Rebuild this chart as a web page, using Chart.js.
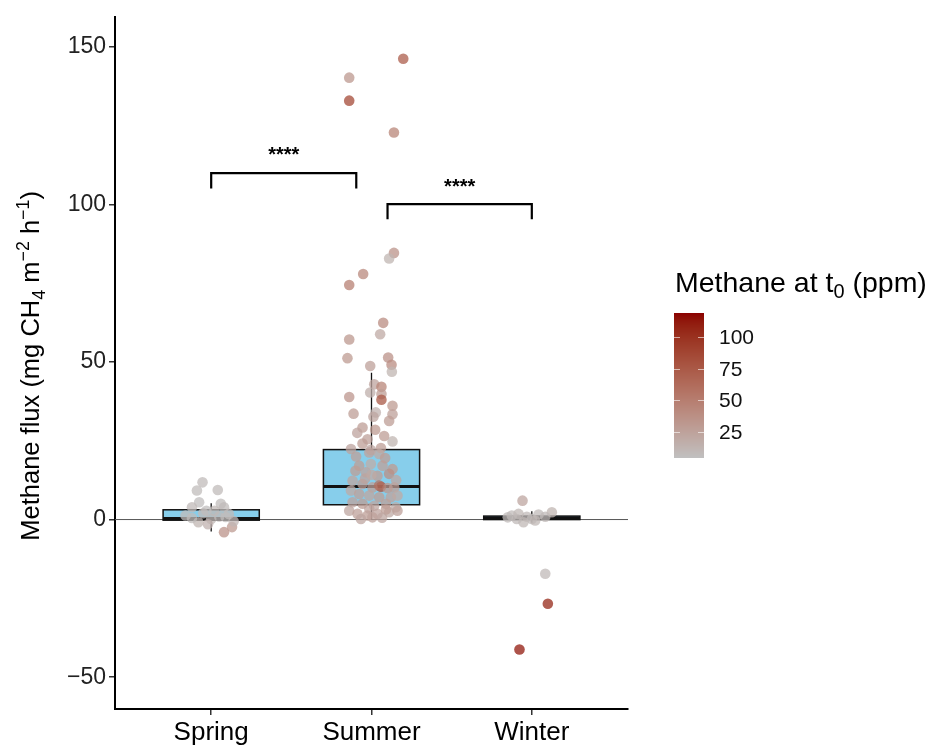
<!DOCTYPE html>
<html>
<head>
<meta charset="utf-8">
<script src="https://cdn.jsdelivr.net/npm/chart.js@4.4.1/dist/chart.umd.min.js"></script>
<style>
html,body{margin:0;padding:0;background:#fff;}
canvas{display:block;}
</style>
</head>
<body>
<canvas id="c" width="940" height="746"></canvas>
<script>
// ---------- DATA ----------
const seasons = ['Spring', 'Summer', 'Winter'];
const yTickValues = [-50, 0, 50, 100, 150];
const legendTickValues = [25, 50, 75, 100];
const methaneRange = [4.5, 119];

// Spring: flux, jitter offset (category units), methane at t0
const springFlux   = [11.8, 9.2, 9.4, 5.5, 3.9, 5.0, 3.9, 2.8, 2.8, -0.85, -4.0, -2.4, 1.8, 1.3, 0.5, 0.2, 1.0, -0.5, 2.0, 0.8, -1.5];
const springJitter = [-0.054, -0.089, 0.041, -0.075, -0.12, 0.06, 0.08, 0.02, -0.03, -0.08, 0.08, 0.13, 0.11, -0.16, -0.12, 0.0, 0.05, 0.14, -0.05, 0.09, -0.02];
const springCH4    = [8, 7, 8, 6, 9, 7, 8, 10, 6, 12, 35, 30, 9, 8, 7, 10, 9, 11, 8, 7, 14];

const summerFlux = [146.2, 140.2, 132.9, 122.8, 84.6, 82.8, 77.9, 74.4, 62.4, 58.8, 57.1, 51.2, 51.4, 49.1, 46.9, 48.7,
  42.9, 42.1, 40.3, 39.8, 38.0, 38.9, 36.1, 34.0, 33.6, 33.4, 32.6, 31.3, 29.2, 25.5, 24.8, 24.1, 22.4, 22.1, 22.7, 21.3,
  20.8, 17.1, 17.6, 17.1, 16.0, 15.0, 13.9, 14.5, 12.3, 11.3, 10.4, 10.2, 10.0, 10.2, 9.2, 8.1, 7.6, 7.1, 7.1, 7.6,
  5.5, 5.0, 4.4, 5.0, 3.9, 2.8, 1.8, 1.3, 1.8, 2.3, 2.8, 0.2, 0.7,
  20.0, 19.5, 13.0, 10.8, 12.5, 15.5, 14.2, 26.5, 27.5, 28.5, 3.2, 3.5, 0.6];
const summerJitter = [0.198, -0.139, -0.139, 0.14, 0.14, 0.11, -0.052, -0.139, 0.073, 0.054, -0.139, -0.15, 0.104, 0.125, 0.127, -0.008,
  0.017, 0.062, -0.008, 0.062, 0.062, -0.139, 0.131, 0.027, -0.112, 0.131, 0.012, 0.11, -0.056, -0.025, 0.131, -0.056, -0.128, -0.004, 0.059, -0.014,
  0.048, -0.077, -0.004, 0.069, 0.131, -0.035, 0.037, 0.11, -0.118, -0.056, 0.059, 0.006, 0.1, 0.142, -0.128, -0.077, -0.014, 0.048, 0.121, 0.162,
  -0.118, -0.056, 0.017, 0.09, 0.152, -0.139, -0.087, -0.025, 0.037, 0.11, 0.162, -0.066, 0.006,
  -0.096, 0.085, -0.04, 0.048, 0.154, -0.1, 0.0, 0.079, -0.089, 0.023, 0.09, -0.014, 0.066];
const summerCH4 = [72, 32, 85, 45, 35, 12, 42, 48, 40, 20, 32, 30, 36, 40, 12, 26,
  24, 45, 16, 28, 75, 33, 30, 14, 28, 26, 22, 28, 28, 26, 12, 28, 24, 22, 28, 24,
  20, 28, 18, 26, 30, 24, 28, 38, 22, 28, 80, 26, 32, 28, 20, 26, 22, 28, 24, 20,
  24, 28, 22, 26, 18, 22, 26, 28, 24, 20, 26, 22, 25,
  26, 28, 24, 60, 22, 28, 20, 28, 24, 30, 28, 24, 22];

const winterFlux   = [6.0, 1.3, 1.8, 0.9, 1.6, 2.3, 0.9, -0.85, 0.2, 0.2, 0.7, -0.3, -17.2, -26.7, -41.2];
const winterJitter = [-0.058, -0.125, -0.083, -0.031, 0.042, 0.125, 0.084, -0.052, 0.0, -0.094, -0.15, 0.021, 0.084, 0.1, -0.077];
const winterCH4    = [22, 8, 10, 9, 8, 12, 9, 10, 8, 9, 8, 10, 9, 105, 112];

// Box statistics per season
const boxQ1        = [-0.2, 4.7, 0.0];
const boxMedian    = [0.3, 10.5, 0.5];
const boxQ3        = [3.1, 22.2, 1.1];
const whiskerLow   = [-3.8, 0.0, -1.0];
const whiskerHigh  = [5.2, 46.6, 2.6];

// Significance brackets
const bracketFrom  = [1.0, 2.1];
const bracketTo    = [1.905, 3.0];
const bracketTop   = [109.9, 100.1];
const bracketTip   = [105.0, 95.3];
const bracketText  = ['****', '****'];
const bracketTextY = [113.6, 103.5];

// ---------- COLOUR SCALE (Lab interpolation, like ggplot) ----------
const LOW = [192, 192, 192], HIGH = [139, 0, 0];
function lin(c){c/=255;return c<=0.04045?c/12.92:Math.pow((c+0.055)/1.055,2.4);}
function gam(c){c=c<=0.0031308?12.92*c:1.055*Math.pow(c,1/2.4)-0.055;return Math.max(0,Math.min(255,Math.round(c*255)));}
const WX=0.95047,WY=1,WZ=1.08883;
function f(t){return t>0.008856?Math.cbrt(t):7.787*t+16/116;}
function finv(t){return t>0.206893?t*t*t:(t-16/116)/7.787;}
function toLab(rgb){const r=lin(rgb[0]),g=lin(rgb[1]),b=lin(rgb[2]);
  const X=(0.4124*r+0.3576*g+0.1805*b)/WX,Y=(0.2126*r+0.7152*g+0.0722*b)/WY,Z=(0.0193*r+0.1192*g+0.9505*b)/WZ;
  const fx=f(X),fy=f(Y),fz=f(Z);return [116*fy-16,500*(fx-fy),200*(fy-fz)];}
function fromLab(lab){const fy=(lab[0]+16)/116,fx=fy+lab[1]/500,fz=fy-lab[2]/200;
  const X=finv(fx)*WX,Y=finv(fy)*WY,Z=finv(fz)*WZ;
  const r=3.2406*X-1.5372*Y-0.4986*Z,g=-0.9689*X+1.8758*Y+0.0415*Z,b=0.0557*X-0.2040*Y+1.0570*Z;
  return [gam(r),gam(g),gam(b)];}
const LABLOW=toLab(LOW),LABHIGH=toLab(HIGH);
function ch4Color(v,alpha){let t=(v-methaneRange[0])/(methaneRange[1]-methaneRange[0]);t=Math.max(0,Math.min(1,t));
  const lab=[0,1,2].map(i=>LABLOW[i]+(LABHIGH[i]-LABLOW[i])*t);const c=fromLab(lab);
  return alpha==null?`rgb(${c[0]},${c[1]},${c[2]})`:`rgba(${c[0]},${c[1]},${c[2]},${alpha})`;}

// ---------- BUILD POINTS ----------
const points=[],colors=[];
[[springFlux,springJitter,springCH4],[summerFlux,summerJitter,summerCH4],[winterFlux,winterJitter,winterCH4]].forEach((g,gi)=>{
  g[0].forEach((y,i)=>{points.push({x:gi+1+g[1][i],y:y});colors.push(ch4Color(g[2][i],0.75));});
});

const FONT='"Liberation Sans", Arial, Helvetica, sans-serif';

function drawRich(ctx,segs,size){
  let x=0;
  segs.forEach(s=>{
    const sz=s.s===0?size:size*0.7;
    ctx.font=`${sz}px ${FONT}`;
    const dy=s.s===1?-size*0.4:(s.s===-1?size*0.22:0);
    ctx.fillText(s.t,x,dy);
    x+=ctx.measureText(s.t).width;
  });
  return x;
}
function measureRich(ctx,segs,size){
  let x=0;segs.forEach(s=>{ctx.font=`${s.s===0?size:size*0.7}px ${FONT}`;x+=ctx.measureText(s.t).width;});return x;
}

const boxPlugin={
  id:'boxes',
  beforeDatasetsDraw(chart){
    const {ctx,chartArea,scales:{x,y}}=chart;
    ctx.save();
    ctx.strokeStyle='#555';ctx.lineWidth=1;
    ctx.beginPath();ctx.moveTo(chartArea.left,y.getPixelForValue(0));ctx.lineTo(chartArea.right,y.getPixelForValue(0));ctx.stroke();
    seasons.forEach((s,i)=>{
      const cx=x.getPixelForValue(i+1),hw=x.getPixelForValue(i+1.3)-cx;
      const q1=y.getPixelForValue(boxQ1[i]),q3=y.getPixelForValue(boxQ3[i]),md=y.getPixelForValue(boxMedian[i]);
      ctx.strokeStyle='#111';ctx.lineWidth=1.3;
      ctx.beginPath();
      ctx.moveTo(cx,q3);ctx.lineTo(cx,y.getPixelForValue(whiskerHigh[i]));
      ctx.moveTo(cx,q1);ctx.lineTo(cx,y.getPixelForValue(whiskerLow[i]));
      ctx.stroke();
      ctx.fillStyle='#87CEEB';
      ctx.fillRect(cx-hw,q3,2*hw,q1-q3);
      ctx.lineWidth=1.5;ctx.strokeRect(cx-hw,q3,2*hw,q1-q3);
      ctx.lineWidth=3;ctx.beginPath();ctx.moveTo(cx-hw,md);ctx.lineTo(cx+hw,md);ctx.stroke();
    });
    ctx.restore();
  },
  afterDatasetsDraw(chart){
    const {ctx,scales:{x,y}}=chart;
    ctx.save();
    ctx.strokeStyle='#000';ctx.lineWidth=2.2;ctx.lineJoin='miter';
    bracketFrom.forEach((b,i)=>{
      const x1=x.getPixelForValue(b),x2=x.getPixelForValue(bracketTo[i]);
      const yt=y.getPixelForValue(bracketTop[i]),yb=y.getPixelForValue(bracketTip[i]);
      ctx.beginPath();ctx.moveTo(x1,yb);ctx.lineTo(x1,yt);ctx.lineTo(x2,yt);ctx.lineTo(x2,yb);ctx.stroke();
      ctx.fillStyle='#000';ctx.font=`bold 20px ${FONT}`;ctx.textAlign='center';ctx.textBaseline='alphabetic';
      ctx.fillText(bracketText[i],(x1+x2)/2,y.getPixelForValue(bracketTextY[i]));
    });
    ctx.restore();
  },
  afterDraw(chart){
    const {ctx,chartArea}=chart;
    ctx.save();
    const ySegs=[{t:'Methane flux (mg CH',s:0},{t:'4',s:-1},{t:' m',s:0},{t:'−2',s:1},{t:' h',s:0},{t:'−1',s:1},{t:')',s:0}];
    const ysz=25.5;
    const w=measureRich(ctx,ySegs,ysz);
    ctx.translate(39,(chartArea.top+chartArea.bottom)/2+3);
    ctx.rotate(-Math.PI/2);
    ctx.fillStyle='#000';ctx.textBaseline='alphabetic';ctx.textAlign='left';
    ctx.translate(-w/2,0);
    drawRich(ctx,ySegs,ysz);
    ctx.restore();

    ctx.save();
    const lt=[{t:'Methane at t',s:0},{t:'0',s:-1},{t:' (ppm)',s:0}];
    ctx.fillStyle='#000';ctx.textBaseline='alphabetic';ctx.textAlign='left';
    ctx.translate(675,292);drawRich(ctx,lt,28.5);
    ctx.restore();
    ctx.save();
    const bx=674,bw=30,btop=313,bbot=458;
    const toPix=v=>bbot-(v-methaneRange[0])/(methaneRange[1]-methaneRange[0])*(bbot-btop);
    for(let p=btop;p<bbot;p++){
      const v=methaneRange[0]+(bbot-p-0.5)/(bbot-btop)*(methaneRange[1]-methaneRange[0]);
      ctx.fillStyle=ch4Color(v);ctx.fillRect(bx,p,bw,1);
    }
    ctx.strokeStyle='rgba(255,255,255,0.6)';ctx.lineWidth=1;
    ctx.font=`21px ${FONT}`;ctx.fillStyle='#111';ctx.textBaseline='middle';ctx.textAlign='left';
    legendTickValues.forEach(v=>{
      const py=Math.round(toPix(v))+0.5;
      ctx.beginPath();ctx.moveTo(bx,py);ctx.lineTo(bx+6,py);ctx.moveTo(bx+bw-6,py);ctx.lineTo(bx+bw,py);ctx.stroke();
      ctx.fillText(String(v),bx+bw+15,py+1);
    });
    ctx.restore();
  }
};

new Chart(document.getElementById('c'),{
  type:'scatter',
  data:{datasets:[{data:points,pointBackgroundColor:colors,pointBorderWidth:0,pointRadius:5.3,pointHoverRadius:5.3}]},
  options:{
    responsive:false,animation:false,
    layout:{padding:{top:15,right:312,bottom:0,left:0}},
    plugins:{legend:{display:false},tooltip:{enabled:false}},
    scales:{
      x:{type:'linear',min:0.4,max:3.6,
        afterBuildTicks:s=>{s.ticks=seasons.map((_,i)=>({value:i+1}));},
        afterFit:s=>{s.height=37;},
        ticks:{callback:(v,i)=>seasons[i],font:{family:FONT,size:26},color:'#000',padding:2,autoSkip:false,maxRotation:0},
        grid:{drawOnChartArea:false,drawTicks:true,tickLength:6,color:'#333',lineWidth:1.5},
        border:{display:true,color:'#000',width:2}},
      y:{type:'linear',min:-60.1,max:159.5,
        afterBuildTicks:s=>{s.ticks=yTickValues.map(v=>({value:v}));},
        afterFit:s=>{s.width=115;},
        ticks:{callback:v=>v<0?'−'+Math.abs(v):String(v),font:{family:FONT,size:23},color:'#222',padding:3},
        grid:{drawOnChartArea:false,drawTicks:true,tickLength:6,color:'#333',lineWidth:1.5},
        border:{display:true,color:'#000',width:2}}
    }
  },
  plugins:[boxPlugin]
});
</script>
</body>
</html>
